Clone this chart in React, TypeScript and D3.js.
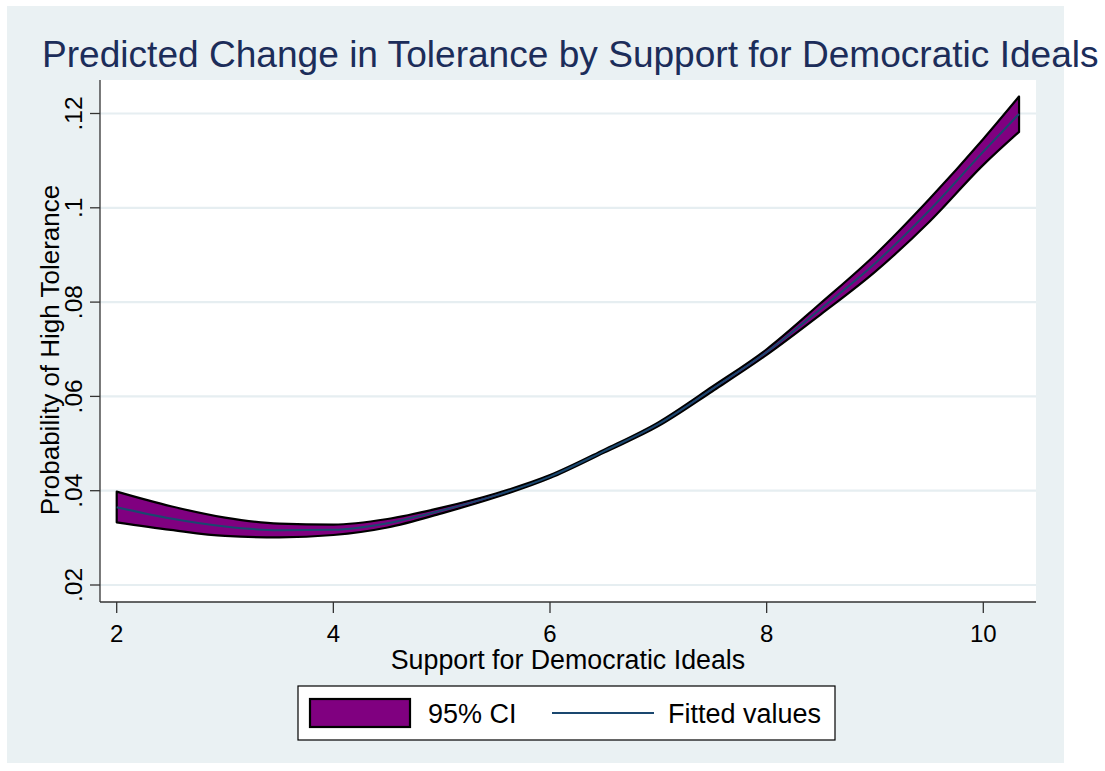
import React from "react";
import * as d3 from "d3";

// Support for democratic ideals (x) with predicted probability and 95% CI bounds
const supportValues = [2, 2.5, 3, 3.5, 4, 4.5, 5, 5.5, 6, 6.5, 7, 7.5, 8, 8.5, 9, 9.5, 10, 10.33];
const fittedValues = [0.0365, 0.0341, 0.0324, 0.0316, 0.0317, 0.0331, 0.0358, 0.039, 0.043, 0.0484, 0.0541, 0.0616, 0.0694, 0.0786, 0.0882, 0.0994, 0.1119, 0.1199];
const upperCI = [0.0398, 0.0367, 0.0343, 0.033, 0.0328, 0.034, 0.0364, 0.0394, 0.0433, 0.0487, 0.0545, 0.0621, 0.07, 0.0798, 0.09, 0.1018, 0.1146, 0.1236];
const lowerCI = [0.0333, 0.0317, 0.0304, 0.0301, 0.0306, 0.0322, 0.0352, 0.0386, 0.0427, 0.0481, 0.0537, 0.0611, 0.0688, 0.0774, 0.0864, 0.097, 0.1091, 0.1161];

const xTicks = [2, 4, 6, 8, 10];
const yTicks = [0.02, 0.04, 0.06, 0.08, 0.1, 0.12];
const yTickLabels = [".02", ".04", ".06", ".08", ".1", ".12"];

const TITLE = "Predicted Change in Tolerance by Support for Democratic Ideals";
const X_TITLE = "Support for Democratic Ideals";
const Y_TITLE = "Probability of High Tolerance";
const LEGEND_LABELS = ["95% CI", "Fitted values"];

const FONT = "'Liberation Sans', Arial, Helvetica, sans-serif";
const BG = "#eaf1f3";
const GRID = "#e6eef1";
const PURPLE = "#800080";
const NAVY = "#1a476f";

export default function App() {
  const W = 1105;
  const H = 771;
  const plot = { left: 100, right: 1036, top: 80, bottom: 602 };

  const x = d3.scaleLinear().domain([2, 10]).range([116.7, 983.3]);
  const y = d3.scaleLinear().domain([0.02, 0.12]).range([585, 113.5]);

  const rows = supportValues.map((v, i) => ({
    x: v,
    fit: fittedValues[i],
    lo: lowerCI[i],
    hi: upperCI[i],
  }));

  const band = d3
    .area<(typeof rows)[number]>()
    .x((d) => x(d.x))
    .y0((d) => y(d.lo))
    .y1((d) => y(d.hi))
    .curve(d3.curveMonotoneX);

  const line = d3
    .line<(typeof rows)[number]>()
    .x((d) => x(d.x))
    .y((d) => y(d.fit))
    .curve(d3.curveMonotoneX);

  return (
    <svg
      width={W}
      height={H}
      style={{ position: "absolute", left: 0, top: 0, background: "#ffffff" }}
      fontFamily={FONT}
    >
      <rect x={7} y={6} width={1057} height={757} fill={BG} />

      <text x={42} y={67} fontSize={37.1} fill="#1c2d5a">
        {TITLE}
      </text>

      {/* plot region */}
      <rect
        x={plot.left}
        y={plot.top}
        width={plot.right - plot.left}
        height={plot.bottom - plot.top}
        fill="#ffffff"
      />

      {yTicks.map((t) => (
        <line
          key={`g${t}`}
          x1={plot.left}
          x2={plot.right}
          y1={y(t)}
          y2={y(t)}
          stroke={GRID}
          strokeWidth={2.2}
        />
      ))}

      <path d={band(rows) ?? ""} fill={PURPLE} stroke="#000" strokeWidth={2.2} strokeLinejoin="round" />
      <path d={line(rows) ?? ""} fill="none" stroke={NAVY} strokeWidth={2} />

      {/* axes */}
      <line x1={plot.left} x2={plot.left} y1={plot.top} y2={plot.bottom} stroke="#333" strokeWidth={1.3} />
      <line x1={plot.left} x2={plot.right} y1={plot.bottom} y2={plot.bottom} stroke="#333" strokeWidth={1.3} />

      {yTicks.map((t, i) => (
        <g key={`y${t}`}>
          <line x1={plot.left - 10} x2={plot.left} y1={y(t)} y2={y(t)} stroke="#333" strokeWidth={1.3} />
          <text
            transform={`translate(81.5,${y(t)}) rotate(-90)`}
            textAnchor="middle"
            fontSize={24.5}
            fill="#000"
          >
            {yTickLabels[i]}
          </text>
        </g>
      ))}

      {xTicks.map((t) => (
        <g key={`x${t}`}>
          <line x1={x(t)} x2={x(t)} y1={plot.bottom} y2={plot.bottom + 11} stroke="#333" strokeWidth={1.3} />
          <text x={x(t)} y={642} textAnchor="middle" fontSize={24} fill="#000">
            {t}
          </text>
        </g>
      ))}

      <text x={(plot.left + plot.right) / 2} y={668.5} textAnchor="middle" fontSize={26.8} fill="#000">
        {X_TITLE}
      </text>
      <text transform="translate(59,350) rotate(-90)" textAnchor="middle" fontSize={26} fill="#000">
        {Y_TITLE}
      </text>

      {/* legend */}
      <rect x={298} y={686} width={537} height={54} fill="#ffffff" stroke="#000" strokeWidth={1.2} />
      <rect x={310} y={699} width={100} height={28} fill={PURPLE} stroke="#000" strokeWidth={2.2} />
      <text x={428} y={722.5} fontSize={27} fill="#000">
        {LEGEND_LABELS[0]}
      </text>
      <line x1={552} x2={654} y1={713} y2={713} stroke={NAVY} strokeWidth={2} />
      <text x={668} y={722.5} fontSize={27} fill="#000">
        {LEGEND_LABELS[1]}
      </text>
    </svg>
  );
}
